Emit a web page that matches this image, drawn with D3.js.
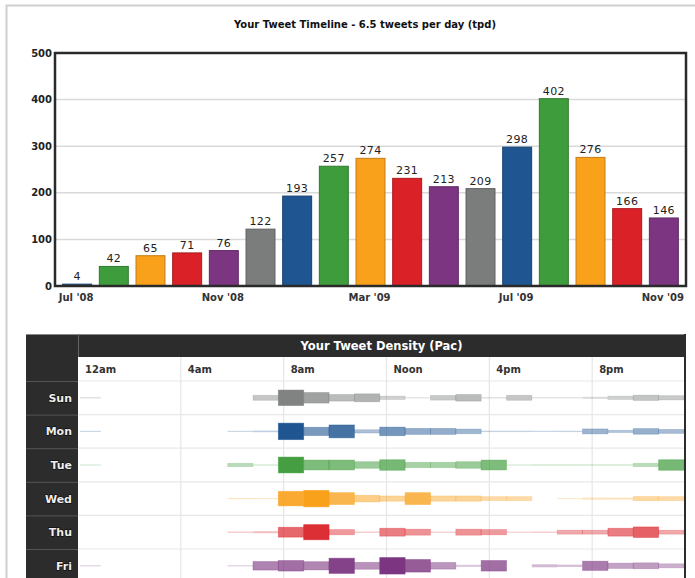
<!DOCTYPE html>
<html>
<head>
<meta charset="utf-8">
<script src="https://cdn.jsdelivr.net/npm/d3@7/dist/d3.min.js"></script>
<style>
  body { margin: 0; background: #fff; }
  svg { display: block; font-family: 'DejaVu Sans', Verdana, sans-serif; }
</style>
</head>
<body>
<svg width="695" height="578"></svg>
<script>
// Monthly tweet counts
const months = ["Jul '08", "Aug '08", "Sep '08", "Oct '08", "Nov '08", "Dec '08", "Jan '09", "Feb '09",
  "Mar '09", "Apr '09", "May '09", "Jun '09", "Jul '09", "Aug '09", "Sep '09", "Oct '09", "Nov '09"]
const tweets = [4, 42, 65, 71, 76, 122, 193, 257, 274, 231, 213, 209, 298, 402, 276, 166, 146]
const monthTicks = ["Jul '08", "Nov '08", "Mar '09", "Jul '09", "Nov '09"]
const yTicks = [0, 100, 200, 300, 400, 500]
const palette = ['#1f5591', '#3f9c3c', '#f9a11b', '#da2128', '#7c3580', '#7a7d7c']

// Tweets per hour of day (Pacific), one array per weekday
const days = ['Sun', 'Mon', 'Tue', 'Wed', 'Thu', 'Fri']
const dayColors = ['#7a7d7c', '#1f5591', '#3f9c3c', '#f9a11b', '#da2128', '#7c3580']
const sun = [4, 0, 0, 0, 0, 0, 0, 15, 47, 32, 20, 24, 10, 2, 14, 20, 4, 15, 3, 3, 6, 10, 16, 13]
const mon = [2, 0, 0, 0, 0, 0, 2, 5, 50, 25, 39, 10, 26, 18, 18, 14, 4, 4, 3, 4, 15, 9, 17, 12]
const tue = [1, 0, 0, 0, 0, 0, 10, 3, 48, 30, 30, 20, 32, 16, 16, 20, 30, 1, 4, 4, 4, 4, 10, 32]
const wed = [0, 0, 0, 0, 0, 0, 4, 3, 44, 50, 36, 20, 16, 36, 16, 16, 12, 12, 0, 2, 6, 6, 13, 12]
const thu = [0, 0, 0, 0, 0, 0, 4, 6, 30, 46, 16, 4, 24, 18, 3, 18, 16, 1, 4, 12, 12, 24, 32, 12]
const fri = [2, 0, 0, 0, 0, 0, 3, 26, 32, 25, 46, 21, 50, 38, 20, 6, 32, 0, 9, 7, 28, 16, 18, 12]
const hourly = [sun, mon, tue, wed, thu, fri]
const hourLabels = ['12am', '4am', '8am', 'Noon', '4pm', '8pm']

const svg = d3.select('svg')

// page frame
svg.append('rect')
  .attr('x', 6.5).attr('y', 5.5)
  .attr('width', 720).attr('height', 600)
  .attr('fill', 'none').attr('stroke', '#cfcfcf').attr('stroke-width', 2)

// ---------- Timeline ----------
const plot = { left: 55, top: 53, right: 686, bottom: 286 }

svg.append('text')
  .attr('x', 365).attr('y', 27.5)
  .attr('text-anchor', 'middle')
  .attr('font-size', 10).attr('font-weight', 'bold').attr('fill', '#111')
  .text('Your Tweet Timeline - 6.5 tweets per day (tpd)')

const x = d3.scaleBand().domain(months).range([59, 682]).paddingInner(0.21).paddingOuter(0.1)
const y = d3.scaleLinear().domain([0, 500]).range([plot.bottom, plot.top])

// grid
svg.append('g')
  .selectAll('line')
  .data(yTicks.slice(1, -1))
  .join('line')
  .attr('x1', plot.left).attr('x2', plot.right)
  .attr('y1', d => y(d)).attr('y2', d => y(d))
  .attr('stroke', '#d9d9d9').attr('stroke-width', 1.5)

// y labels
svg.append('g')
  .selectAll('text')
  .data(yTicks)
  .join('text')
  .attr('x', 52).attr('y', d => y(d))
  .attr('dy', '0.35em')
  .attr('text-anchor', 'end')
  .attr('font-size', 10).attr('font-weight', 'bold').attr('fill', '#222')
  .text(d => d)

// bars
svg.append('g')
  .selectAll('rect')
  .data(tweets)
  .join('rect')
  .attr('x', (d, i) => x(months[i]))
  .attr('y', d => y(d))
  .attr('width', x.bandwidth())
  .attr('height', d => y(0) - y(d))
  .attr('fill', (d, i) => palette[i % palette.length])
  .attr('stroke', (d, i) => d3.color(palette[i % palette.length]).darker(0.7))
  .attr('stroke-width', 1)

// value labels
svg.append('g')
  .selectAll('text')
  .data(tweets)
  .join('text')
  .attr('x', (d, i) => x(months[i]) + x.bandwidth() / 2)
  .attr('y', d => y(d) - 4)
  .attr('text-anchor', 'middle')
  .attr('font-size', 11).attr('fill', '#222')
  .attr('letter-spacing', 0.4)
  .text(d => d)

// x labels
svg.append('g')
  .selectAll('text')
  .data(monthTicks)
  .join('text')
  .attr('x', d => x(d) + x.bandwidth() / 2 - 1)
  .attr('y', 300.5)
  .attr('text-anchor', 'middle')
  .attr('font-size', 10).attr('font-weight', 'bold').attr('fill', '#333')
  .text(d => d)

// frame
svg.append('rect')
  .attr('x', plot.left).attr('y', plot.top)
  .attr('width', plot.right - plot.left).attr('height', plot.bottom - plot.top)
  .attr('fill', 'none').attr('stroke', '#2a2a2a').attr('stroke-width', 2.5)

// ---------- Density ----------
const dens = { left: 26, col: 78, top: 334, head: 357, rows: 381, right: 685 }
const gx = d3.scaleLinear().domain([0, 24]).range([dens.col, 695])   // header columns
const hx = d3.scaleLinear().domain([0, 24]).range([75.5, 684])       // hourly strips
const row = d3.scaleBand().domain(days).range([dens.rows, dens.rows + 6 * 33.6])
const thick = d3.scaleLinear().domain([0, 50]).range([0, 16.5])
const alpha = d3.scaleLinear().domain([0, 50]).range([0.2, 1])

svg.append('rect')
  .attr('x', dens.left).attr('y', dens.top)
  .attr('width', dens.col - dens.left).attr('height', 260)
  .attr('fill', '#2c2c2c')
svg.append('rect')
  .attr('x', dens.col).attr('y', dens.top)
  .attr('width', dens.right - dens.col).attr('height', dens.head - dens.top)
  .attr('fill', '#2c2c2c')
svg.append('line')
  .attr('x1', dens.left).attr('x2', dens.right)
  .attr('y1', dens.top + 0.5).attr('y2', dens.top + 0.5)
  .attr('stroke', '#888')
svg.append('line')
  .attr('x1', dens.col + 0.5).attr('x2', dens.col + 0.5)
  .attr('y1', dens.top).attr('y2', dens.head)
  .attr('stroke', '#666')

svg.append('text')
  .attr('x', (dens.col + dens.right) / 2).attr('y', 350)
  .attr('text-anchor', 'middle')
  .attr('font-size', 11.5).attr('font-weight', 'bold').attr('fill', '#fff')
  .text('Your Tweet Density (Pac)')

// grid
const hourTicks = d3.range(0, 24, 4)
svg.append('g')
  .selectAll('line')
  .data(hourTicks.slice(1))
  .join('line')
  .attr('x1', d => gx(d)).attr('x2', d => gx(d))
  .attr('y1', dens.head).attr('y2', 578)
  .attr('stroke', '#e6e6e6').attr('stroke-width', 1.2)

svg.append('g')
  .selectAll('line')
  .data(days)
  .join('line')
  .attr('x1', dens.col).attr('x2', dens.right)
  .attr('y1', d => row(d)).attr('y2', d => row(d))
  .attr('stroke', '#e8e8e8').attr('stroke-width', 1.2)

svg.append('g')
  .selectAll('text')
  .data(hourTicks)
  .join('text')
  .attr('x', d => gx(d) + 7).attr('y', 373)
  .attr('font-size', 10).attr('font-weight', 'bold').attr('fill', '#333')
  .text((d, i) => hourLabels[i])

// day labels and row separators in the left column
svg.append('g')
  .selectAll('line')
  .data(days)
  .join('line')
  .attr('x1', dens.left).attr('x2', dens.col)
  .attr('y1', d => row(d) + 0.5).attr('y2', d => row(d) + 0.5)
  .attr('stroke', '#555')

svg.append('g')
  .selectAll('text')
  .data(days)
  .join('text')
  .attr('x', 72).attr('y', d => row(d) + row.bandwidth() / 2)
  .attr('dy', '0.36em')
  .attr('text-anchor', 'end')
  .attr('font-size', 11).attr('font-weight', 'bold').attr('fill', '#eee')
  .style('paint-order', 'stroke').attr('stroke', '#000').attr('stroke-width', 1)
  .text(d => d)

// hourly strips
svg.append('clipPath').attr('id', 'strip')
  .append('rect').attr('x', 80).attr('y', dens.rows).attr('width', dens.right - 81).attr('height', 260)

const strips = svg.append('g').attr('clip-path', 'url(#strip)')
days.forEach((day, di) => {
  const cy = row(day) + row.bandwidth() / 2
  strips.append('g')
    .selectAll('rect')
    .data(hourly[di].map((v, h) => ({ v, h })).filter(d => d.v > 0))
    .join('rect')
    .attr('x', d => hx(d.h))
    .attr('width', d => hx(d.h + 1) - hx(d.h))
    .attr('y', d => cy - Math.max(1.2, thick(d.v)) / 2)
    .attr('height', d => Math.max(1.2, thick(d.v)))
    .attr('fill', dayColors[di])
    .attr('fill-opacity', d => alpha(d.v))
    .attr('stroke', dayColors[di])
    .attr('stroke-opacity', d => alpha(d.v) * 0.6)
    .attr('stroke-width', d => (thick(d.v) > 3 ? 0.8 : 0))
})

// right border of the density table
svg.append('line')
  .attr('x1', dens.right).attr('x2', dens.right)
  .attr('y1', dens.top).attr('y2', 578)
  .attr('stroke', '#2c2c2c').attr('stroke-width', 2)
</script>
</body>
</html>
